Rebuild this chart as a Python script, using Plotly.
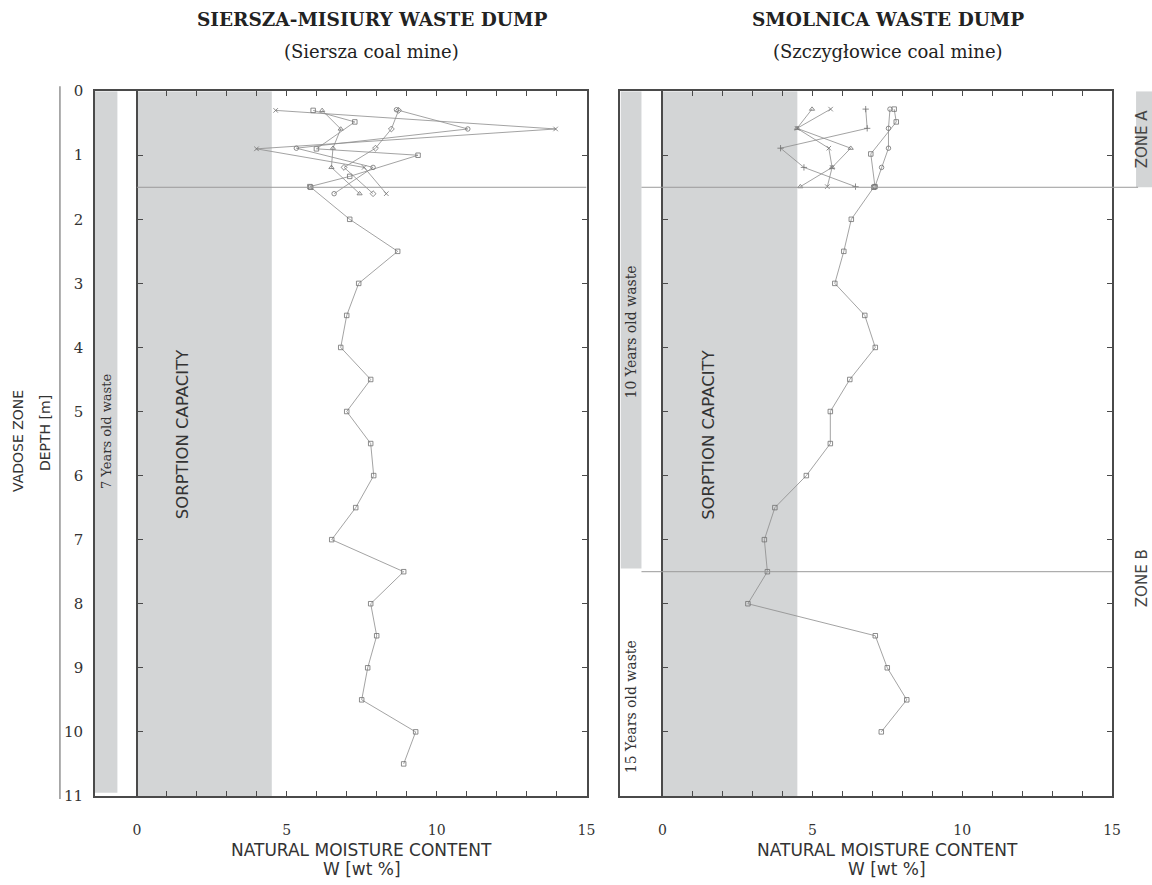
import plotly.graph_objects as go

W, H = 1152, 885

# ---------------- DATA ----------------
# Left panel: Siersza-Misiury waste dump, main profile (depth m, moisture wt%)
left_main_depth = [1.5, 2.0, 2.5, 3.0, 3.5, 4.0, 4.5, 5.0, 5.5, 6.0, 6.5, 7.0, 7.5, 8.0, 8.5, 9.0, 9.5, 10.0, 10.5]
left_main_w = [5.8, 7.1, 8.7, 7.4, 7.0, 6.8, 7.8, 7.0, 7.8, 7.9, 7.3, 6.5, 8.9, 7.8, 8.0, 7.7, 7.5, 9.3, 8.9]

# Left panel: shallow profiles (0 - 1.6 m)
left_s1_depth = [0.30, 0.59, 0.90, 1.19, 1.60]
left_s1_w = [4.63, 13.97, 3.99, 7.58, 8.32]
left_s2_depth = [0.30, 0.59, 0.89, 1.19, 1.60]
left_s2_w = [6.18, 6.80, 6.54, 6.49, 7.43]
left_s3_depth = [0.30, 0.48, 0.90, 1.00, 1.33, 1.49]
left_s3_w = [5.88, 7.27, 5.99, 9.38, 7.10, 5.77]
left_s4_depth = [0.29, 0.59, 0.89, 1.19, 1.60]
left_s4_w = [8.66, 11.04, 5.32, 7.88, 6.58]
left_s5_depth = [0.30, 0.59, 0.89, 1.19, 1.60]
left_s5_w = [8.73, 8.49, 7.96, 6.91, 7.88]

# Right panel: Smolnica waste dump, main profile
right_main_depth = [1.5, 2.0, 2.5, 3.0, 3.5, 4.0, 4.5, 5.0, 5.5, 6.0, 6.5, 7.0, 7.5, 8.0, 8.5, 9.0, 9.5, 10.0]
right_main_w = [7.05, 6.3, 6.05, 5.75, 6.75, 7.1, 6.25, 5.6, 5.6, 4.8, 3.75, 3.4, 3.5, 2.85, 7.1, 7.5, 8.15, 7.3]

# Right panel: shallow profiles
right_s1_depth = [0.28, 0.58, 0.89, 1.19, 1.49]
right_s1_w = [4.99, 4.49, 6.28, 5.66, 4.60]
right_s2_depth = [0.28, 0.58, 0.89, 1.19, 1.49]
right_s2_w = [5.61, 4.49, 5.55, 5.66, 5.50]
right_s3_depth = [0.28, 0.58, 0.89, 1.19, 1.49]
right_s3_w = [6.78, 6.83, 3.94, 4.72, 6.44]
right_s4_depth = [0.28, 0.58, 0.89, 1.19, 1.49]
right_s4_w = [7.59, 7.54, 7.54, 7.31, 7.09]
right_s5_depth = [0.28, 0.48, 0.98, 1.49]
right_s5_w = [7.73, 7.80, 6.95, 7.09]

sorption_capacity = 4.5
left_age_bar = [-1.4, -0.65, 0.0, 10.95]     # x0, x1, depth0, depth1
right_age_bar = [-1.4, -0.7, 0.0, 7.45]
left_boundaries = [1.5]
right_boundaries = [1.5, 7.5]
zone_a = [0.0, 1.5]

x_range = [-1.4, 15]
y_range = [11, 0]
x_tickvals = list(range(0, 16))
x_ticktext = ["0", "", "", "", "", "5", "", "", "", "", "10", "", "", "", "", "15"]
y_tickvals = list(range(0, 12))
y_ticktext = ["0", "1", "2", "3", "4", "5", "6", "7", "8", "9", "10", "11"]

titles = ["<b>SIERSZA-MISIURY WASTE DUMP</b>", "<b>SMOLNICA WASTE DUMP</b>"]
subtitles = ["(Siersza coal mine)", "(Szczygłowice coal mine)"]

# ---------------- LAYOUT GEOMETRY ----------------
# screen-pixel -> paper helpers (with small calibration of the capture)
SX, SY, OY = 0.993, 0.98, 7.8
def px(v): return (v / SX) / W
def py(v): return 1 - ((v - OY) / SY) / H

xdom_l = [px(95), px(587)]
xdom_r = [px(621), px(1113)]
ydom = [py(795), py(90)]

def to_paper(xv, dom):
    return dom[0] + (xv - x_range[0]) / (x_range[1] - x_range[0]) * (dom[1] - dom[0])

AX = "#4a4a4a"
LINE = "#8c8c8c"
MK = "#707070"
GRAY = "#d3d5d6"
SERIF = "DejaVu Serif"
SANS = "DejaVu Sans"

fig = go.Figure()

def add_series(x, y, xa, ya, symbol):
    fig.add_trace(go.Scatter(
        x=x, y=y, xaxis=xa, yaxis=ya, mode="lines+markers",
        line=dict(color=LINE, width=0.8),
        marker=dict(symbol=symbol, size=4.5, color=MK, line=dict(color=MK, width=0.8)),
        showlegend=False, hoverinfo="x+y"))

add_series(left_main_w, left_main_depth, "x", "y", "square-open")
add_series(left_s1_w, left_s1_depth, "x", "y", "x-thin-open")
add_series(left_s2_w, left_s2_depth, "x", "y", "triangle-up-open")
add_series(left_s3_w, left_s3_depth, "x", "y", "square-open")
add_series(left_s4_w, left_s4_depth, "x", "y", "circle-open")
add_series(left_s5_w, left_s5_depth, "x", "y", "diamond-open")

add_series(right_main_w, right_main_depth, "x2", "y2", "square-open")
add_series(right_s1_w, right_s1_depth, "x2", "y2", "triangle-up-open")
add_series(right_s2_w, right_s2_depth, "x2", "y2", "x-thin-open")
add_series(right_s3_w, right_s3_depth, "x2", "y2", "cross-thin-open")
add_series(right_s4_w, right_s4_depth, "x2", "y2", "circle-open")
add_series(right_s5_w, right_s5_depth, "x2", "y2", "square-open")

# dummy traces so overlay axes are drawn
for ya, xa in [("y3", "x"), ("y5", "x"), ("y4", "x2"), ("y6", "x2")]:
    fig.add_trace(go.Scatter(x=[None], y=[None], xaxis=xa, yaxis=ya, showlegend=False))

base_x = dict(range=x_range, tickvals=x_tickvals, ticktext=x_ticktext, ticks="inside",
              ticklen=5, tickcolor=AX, tickwidth=1, showline=True, linecolor=AX, linewidth=1.5,
              mirror="ticks", showgrid=False, zeroline=False, ticklabelstandoff=21,
              tickfont=dict(family=SERIF, size=14, color="#333"))
base_y = dict(range=y_range, domain=ydom, tickvals=y_tickvals, ticktext=y_ticktext, ticks="",
              showline=True, linecolor=AX, linewidth=1.5, mirror=True, showgrid=False,
              zeroline=False, tickfont=dict(family=SERIF, size=15, color="#333"))

fig.update_layout(
    width=W, height=H, autosize=False, margin=dict(l=0, r=0, t=0, b=0, pad=0),
    paper_bgcolor="white", plot_bgcolor="rgba(0,0,0,0)",
    xaxis=dict(base_x, domain=xdom_l, anchor="y"),
    xaxis2=dict(base_x, domain=xdom_r, anchor="y2"),
    yaxis=dict(base_y, anchor="x", showticklabels=True, ticklabelstandoff=7),
    yaxis2=dict(base_y, anchor="x2", showticklabels=False),
    yaxis3=dict(range=y_range, overlaying="y", anchor="free", position=to_paper(0, xdom_l),
                side="left", tickvals=y_tickvals, ticks="inside", ticklen=5, tickcolor=AX,
                showline=True, linecolor=AX, linewidth=1.5, showticklabels=False,
                showgrid=False, zeroline=False),
    yaxis4=dict(range=y_range, overlaying="y2", anchor="free", position=to_paper(0, xdom_r),
                side="left", tickvals=y_tickvals, ticks="inside", ticklen=5, tickcolor=AX,
                showline=True, linecolor=AX, linewidth=1.5, showticklabels=False,
                showgrid=False, zeroline=False),
    yaxis5=dict(range=y_range, overlaying="y", anchor="x", side="right",
                tickvals=y_tickvals, ticks="inside", ticklen=5, tickcolor=AX,
                showline=False, showticklabels=False, showgrid=False, zeroline=False),
    yaxis6=dict(range=y_range, overlaying="y2", anchor="x2", side="right",
                tickvals=y_tickvals, ticks="inside", ticklen=5, tickcolor=AX,
                showline=False, showticklabels=False, showgrid=False, zeroline=False),
)

shapes = []
for xa, ya in [("x", "y"), ("x2", "y2")]:
    shapes.append(dict(type="rect", xref=xa, yref=ya, x0=0, x1=sorption_capacity,
                       y0=0, y1=11, fillcolor=GRAY, line=dict(width=0), layer="below"))
shapes.append(dict(type="rect", xref="x", yref="y", x0=left_age_bar[0], x1=left_age_bar[1],
                   y0=left_age_bar[2], y1=left_age_bar[3], fillcolor=GRAY, line=dict(width=0), layer="below"))
shapes.append(dict(type="rect", xref="x2", yref="y2", x0=right_age_bar[0], x1=right_age_bar[1],
                   y0=right_age_bar[2], y1=right_age_bar[3], fillcolor=GRAY, line=dict(width=0), layer="below"))
for d in left_boundaries:
    shapes.append(dict(type="line", xref="x", yref="y", x0=0, x1=15, y0=d, y1=d,
                       line=dict(color="#9a9a9a", width=1)))
for i, d in enumerate(right_boundaries):
    x1p = px(1139) if i == 0 else xdom_r[1]
    shapes.append(dict(type="line", xref="paper", yref="y2", x0=to_paper(right_age_bar[1], xdom_r),
                       x1=x1p, y0=d, y1=d, line=dict(color="#9a9a9a", width=1)))
shapes.append(dict(type="rect", xref="paper", yref="y2", x0=px(1137), x1=1.02,
                   y0=zone_a[0], y1=zone_a[1], fillcolor=GRAY, line=dict(width=0), layer="below"))
shapes.append(dict(type="line", xref="paper", yref="paper", x0=px(60), x1=px(60),
                   y0=py(85), y1=py(798), line=dict(color="#777", width=1.2)))
fig.update_layout(shapes=shapes)

ann = []
def A(**k):
    d = dict(showarrow=False, xanchor="center", yanchor="middle")
    d.update(k)
    ann.append(d)

for i, cx in enumerate([372, 889]):
    A(text=titles[i], xref="paper", yref="paper", x=px(cx), y=py(18),
      font=dict(family=SERIF, size=18.5, color="#222"))
    A(text=subtitles[i], xref="paper", yref="paper", x=px(cx), y=py(50),
      font=dict(family=SERIF, size=18, color="#222"))

for xa in ["x", "x2"]:
    A(text="NATURAL MOISTURE CONTENT", xref=xa, yref="paper", x=7.5, y=py(849),
      font=dict(family=SANS, size=17, color="#333"))
    A(text="W [wt %]", xref=xa, yref="paper", x=7.5, y=py(868),
      font=dict(family=SANS, size=17, color="#333"))
    A(text="SORPTION CAPACITY", xref=xa, yref="y" if xa == "x" else "y2", x=1.55, y=5.35,
      textangle=-90, font=dict(family=SANS, size=16.5, color="#333"))

A(text="7 Years old waste", xref="x", yref="y", x=-1.02, y=5.3, textangle=-90,
  font=dict(family=SERIF, size=13, color="#333"))
A(text="10 Years old waste", xref="x2", yref="y2", x=-1.05, y=3.75, textangle=-90,
  font=dict(family=SERIF, size=14, color="#333"))
A(text="15 Years old waste", xref="x2", yref="y2", x=-1.05, y=9.6, textangle=-90,
  font=dict(family=SERIF, size=14, color="#333"))

A(text="VADOSE ZONE", xref="paper", yref="paper", x=px(18), y=py(440), textangle=-90,
  font=dict(family=SANS, size=14, color="#333"))
A(text="DEPTH [m]", xref="paper", yref="paper", x=px(45), y=py(432), textangle=-90,
  font=dict(family=SANS, size=14, color="#333"))

A(text="ZONE A", xref="paper", yref="y2", x=px(1143), y=0.75, textangle=-90,
  font=dict(family=SANS, size=15, color="#444"))
A(text="ZONE B", xref="paper", yref="y2", x=px(1143), y=7.6, textangle=-90,
  font=dict(family=SANS, size=15, color="#444"))

fig.update_layout(annotations=ann)
fig.write_html("out.html", config={"responsive": False, "displayModeBar": False},
               post_script="document.body.style.margin='0';document.body.style.padding='0';")
